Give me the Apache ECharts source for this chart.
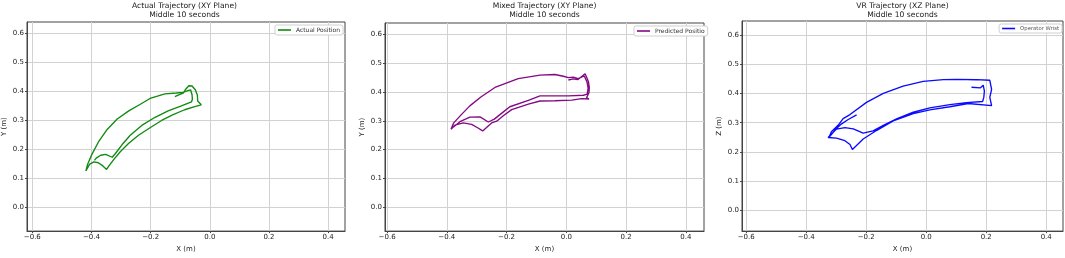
<!DOCTYPE html>
<html><head><meta charset="utf-8">
<script src="https://cdn.jsdelivr.net/npm/echarts@6/dist/echarts.min.js"></script>
<style>html,body{margin:0;padding:0;background:#fff}#c{width:1065px;height:258px}</style>
</head><body><div id="c"></div>
<script>
const panelTitles = ['Actual Trajectory (XY Plane)', 'Mixed Trajectory (XY Plane)', 'VR Trajectory (XZ Plane)'];
const subTitle = 'Middle 10 seconds';
const seriesNames = ['Actual Position', 'Predicted Position', 'Operator Wrist'];
const xAxisNames = ['X (m)', 'X (m)', 'X (m)'];
const yAxisNames = ['Y (m)', 'Y (m)', 'Z (m)'];
const xTicks = [-0.6, -0.4, -0.2, 0.0, 0.2, 0.4];
const yTicks = [0.0, 0.1, 0.2, 0.3, 0.4, 0.5, 0.6];

const actualX = [-0.118,-0.105,-0.090,-0.083,-0.071,-0.060,-0.049,-0.042,-0.041,-0.029,-0.051,-0.085,-0.124,-0.163,-0.202,-0.241,-0.274,-0.302,-0.325,-0.341,-0.349,-0.364,-0.377,-0.392,-0.406,-0.419,-0.413,-0.399,-0.377,-0.347,-0.313,-0.274,-0.235,-0.202,-0.152,-0.113,-0.090,-0.074,-0.065,-0.060,-0.059,-0.062,-0.096,-0.141,-0.185,-0.230,-0.269,-0.297,-0.319,-0.330,-0.352,-0.369,-0.384,-0.390];
const actualY = [0.380,0.386,0.392,0.404,0.418,0.417,0.404,0.385,0.365,0.352,0.346,0.335,0.318,0.298,0.273,0.247,0.219,0.191,0.163,0.141,0.129,0.143,0.152,0.155,0.147,0.124,0.147,0.180,0.223,0.267,0.303,0.331,0.354,0.374,0.390,0.393,0.395,0.401,0.404,0.387,0.371,0.362,0.348,0.331,0.309,0.281,0.247,0.214,0.184,0.171,0.181,0.178,0.168,0.160];

const mixedX = [0.007,0.023,0.038,0.063,0.074,0.077,0.076,0.068,0.076,0.051,0.018,-0.038,-0.088,-0.127,-0.183,-0.211,-0.233,-0.250,-0.267,-0.280,-0.297,-0.317,-0.345,-0.373,-0.386,-0.377,-0.353,-0.323,-0.286,-0.239,-0.161,-0.088,-0.038,-0.010,0.007,0.023,0.040,0.060,0.069,0.073,0.070,0.057,0.007,-0.088,-0.127,-0.189,-0.217,-0.241,-0.261,-0.289,-0.323,-0.356,-0.378];
const mixedY = [0.442,0.446,0.443,0.464,0.437,0.416,0.398,0.381,0.376,0.377,0.372,0.370,0.369,0.358,0.339,0.318,0.299,0.293,0.277,0.265,0.276,0.288,0.293,0.285,0.271,0.293,0.320,0.352,0.383,0.416,0.447,0.459,0.461,0.455,0.450,0.452,0.447,0.456,0.436,0.414,0.393,0.389,0.387,0.387,0.371,0.349,0.326,0.306,0.296,0.314,0.313,0.297,0.279];

const vrX = [0.151,0.181,0.190,0.194,0.192,0.188,0.134,0.079,0.012,-0.043,-0.099,-0.143,-0.177,-0.210,-0.243,-0.271,-0.299,-0.327,-0.299,-0.271,-0.254,-0.246,-0.210,-0.166,-0.110,-0.043,0.012,0.079,0.140,0.218,0.212,0.218,0.212,0.168,0.101,0.057,-0.010,-0.077,-0.143,-0.199,-0.254,-0.277,-0.293,-0.316,-0.324,-0.299,-0.282,-0.260,-0.232];
const vrZ = [0.422,0.420,0.429,0.409,0.387,0.373,0.369,0.362,0.351,0.336,0.313,0.291,0.272,0.264,0.279,0.283,0.278,0.249,0.247,0.238,0.225,0.208,0.244,0.273,0.306,0.331,0.344,0.355,0.366,0.359,0.387,0.415,0.446,0.448,0.449,0.448,0.442,0.426,0.401,0.370,0.328,0.314,0.292,0.269,0.250,0.280,0.296,0.311,0.327];

const xRanges = [[-0.618, 0.457], [-0.607, 0.461], [-0.614, 0.456]];
const yRanges = [[-0.084, 0.638], [-0.083, 0.640], [-0.073, 0.650]];

const colors = ['#108a10', '#840a84', '#0a0aff'];
const grids = [
  {left: 24, top: 22, width: 321, height: 215},
  {left: 385, top: 23, width: 319, height: 215},
  {left: 742, top: 21, width: 321, height: 216}
];
const FONT = 'DejaVu Sans';
const fmt = v => (v < -1e-9 ? '\u2212' : '') + Math.abs(v).toFixed(1);
const zip = (a, b) => a.map((v, i) => [v, b[i]]);
const datasets = [zip(actualX, actualY), zip(mixedX, mixedY), zip(vrX, vrZ)];

const option = {
  animation: false,
  backgroundColor: '#fff',
  title: grids.map((g, i) => ({
    text: panelTitles[i] + '\n' + subTitle,
    left: g.left + g.width / 2, top: 1.5, padding: 0, textAlign: 'center',
    textStyle: {fontFamily: FONT, fontSize: 7.6, fontWeight: 'normal', lineHeight: 9, color: '#1a1a1a'}
  })),
  grid: grids.map(g => Object.assign({show: true, borderColor: '#444', borderWidth: 1, backgroundColor: '#fff'}, g)),
  legend: [
    {data: [seriesNames[0]], right: 722, top: 25, textStyle: {fontSize: 6, fontFamily: FONT, color: '#333'}},
    {data: [seriesNames[1]], left: 634, top: 26, textStyle: {fontSize: 6, fontFamily: FONT, color: '#333', width: 51, overflow: 'truncate', ellipsis: ''}},
    {data: [seriesNames[2]], right: 3, top: 24, textStyle: {fontSize: 5.3, fontFamily: FONT, color: '#555'}}
  ].map(l => Object.assign({icon: 'rect', itemWidth: 13, itemHeight: 1.6, padding: [2, 3, 2, 3], backgroundColor: '#fff', borderColor: '#d0d0d0', borderWidth: 1, borderRadius: 2, selectedMode: false}, l)),
  xAxis: grids.map((g, i) => ({
    type: 'value', gridIndex: i, min: xRanges[i][0], max: xRanges[i][1],
    name: xAxisNames[i], nameLocation: 'middle', nameGap: 13,
    nameTextStyle: {fontFamily: FONT, fontSize: 7, color: '#222'},
    axisLine: {show: true, onZero: false, lineStyle: {color: '#444', width: 1}},
    axisTick: {show: true, length: 2, customValues: xTicks, lineStyle: {color: '#444'}},
    axisLabel: {customValues: xTicks, fontFamily: FONT, fontSize: 7, color: '#222', margin: 3, formatter: fmt},
    splitLine: {show: true, lineStyle: {color: '#d2d2d2', width: 1}}
  })),
  yAxis: grids.map((g, i) => ({
    type: 'value', gridIndex: i, min: yRanges[i][0], max: yRanges[i][1],
    name: yAxisNames[i], nameLocation: 'middle', nameGap: 19, nameRotate: 90,
    nameTextStyle: {fontFamily: FONT, fontSize: 7, color: '#222'},
    axisLine: {show: true, onZero: false, lineStyle: {color: '#444', width: 1}},
    axisTick: {show: true, length: 2, customValues: yTicks, lineStyle: {color: '#444'}},
    axisLabel: {customValues: yTicks, fontFamily: FONT, fontSize: 7, color: '#222', margin: 3, formatter: fmt},
    splitLine: {show: true, lineStyle: {color: '#d2d2d2', width: 1}}
  })),
  series: datasets.map((d, i) => ({
    type: 'line', name: seriesNames[i], xAxisIndex: i, yAxisIndex: i, data: d,
    showSymbol: false, symbol: 'none', color: colors[i],
    lineStyle: {width: 1.35, color: colors[i]}
  }))
};
echarts.init(document.getElementById('c'), null, {renderer: 'canvas'}).setOption(option);
</script></body></html>
